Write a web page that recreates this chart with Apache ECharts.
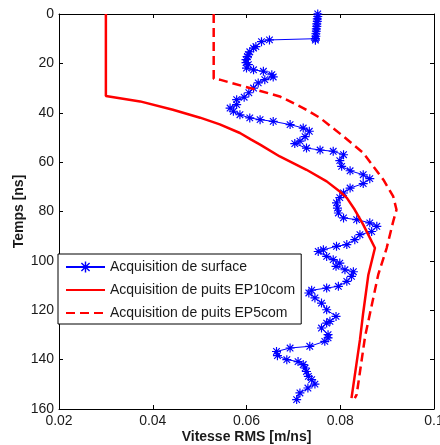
<!DOCTYPE html>
<html>
<head>
<meta charset="utf-8">
<script src="https://cdn.jsdelivr.net/npm/echarts@6/dist/echarts.min.js"></script>
<style>
html,body{margin:0;padding:0;background:#fff;}
#chart{width:440px;height:445px;}
</style>
</head>
<body>
<div id="chart"></div>
<script>
// ---- data ----
var xTicks = [0.02, 0.04, 0.06, 0.08, 0.1];
var yTicks = [0, 20, 40, 60, 80, 100, 120, 140, 160];

var seriesNames = ['Acquisition de surface', 'Acquisition de puits EP10com', 'Acquisition de puits EP5com'];

var surfaceTime = [0,1,2,3,4,5,6,7,8,9,10,10.6,10.5,11.2,13.2,13.8,15.3,16.5,17.2,18.5,19.7,20.5,21.9,22.6,23.2,24.6,25.5,26.6,27.9,30.0,31.9,33.7,34.7,36.7,38.1,39.4,40.8,42.1,42.8,43.5,44.8,46.2,47.5,49.7,51.5,52.5,54.3,55.1,55.6,57.0,59.4,61.7,63.5,65.1,66.7,68.7,70.5,72.5,74.4,76.5,78.6,80.6,82.6,83.3,84.6,86.0,88.1,89.4,91.4,93.4,94.1,95.5,96.2,98.2,99.5,100.9,102.2,103.6,104.4,106.3,108.3,110.3,111.0,111.9,113.0,115.0,117.1,119.8,122.5,124.5,125.2,127.2,129.9,131.2,132.6,134.6,135.3,136.7,138.4,140.0,140.8,142.0,143.4,144.8,146.8,148.1,149.9,151.5,153.5,156.2];
var surfaceVel = [0.0752,0.0752,0.0751,0.0751,0.0750,0.0750,0.0749,0.0749,0.0748,0.0748,0.0747,0.0747,0.0649,0.0632,0.0620,0.0615,0.0607,0.0604,0.0602,0.0599,0.0599,0.0604,0.0600,0.0615,0.0636,0.0654,0.0657,0.0639,0.0625,0.0615,0.0605,0.0595,0.0579,0.0579,0.0565,0.0572,0.0586,0.0607,0.0629,0.0657,0.0693,0.0721,0.0734,0.0725,0.0714,0.0703,0.0728,0.0757,0.0785,0.0807,0.0799,0.0803,0.0821,0.0849,0.0863,0.0849,0.0821,0.0807,0.0799,0.0792,0.0794,0.0796,0.0807,0.0835,0.0863,0.0878,0.0867,0.0842,0.0831,0.0814,0.0792,0.0764,0.0753,0.0771,0.0785,0.0799,0.0791,0.0810,0.0828,0.0824,0.0814,0.0796,0.0771,0.0739,0.0733,0.0746,0.0760,0.0771,0.0791,0.0778,0.0771,0.0760,0.0774,0.0774,0.0767,0.0735,0.0693,0.0664,0.0666,0.0686,0.0710,0.0721,0.0725,0.0728,0.0732,0.0739,0.0746,0.0731,0.0714,0.0707];

var ep10Time = [0, 33.2, 35.4, 38.8, 42.0, 44.7, 48.2, 50.9, 52.9, 57.7, 63.1, 67.8, 71.9, 74.5, 79.3, 85.3, 94.8, 105.6, 121.0, 132.0, 155.6];
var ep10Vel  = [0.0300, 0.0300, 0.0373, 0.0443, 0.0501, 0.0543, 0.0586, 0.0610, 0.0629, 0.0671, 0.0728, 0.0771, 0.0799, 0.0814, 0.0831, 0.0849, 0.0874, 0.0860, 0.0849, 0.0842, 0.0824];

var ep5Time = [0, 26.2, 26.6, 30.4, 33.4, 38.1, 42.1, 49.6, 56.3, 67.1, 73.9, 79.3, 84.0, 94.8, 105.6, 130.6, 154.2, 155.6];
var ep5Vel  = [0.0530, 0.0530, 0.0543, 0.0615, 0.0671, 0.0721, 0.0757, 0.0807, 0.0849, 0.0892, 0.0913, 0.0920, 0.0913, 0.0899, 0.0881, 0.0853, 0.0835, 0.0831];

function pairs(v, t){ return v.map(function(x,i){ return [x, t[i]]; }); }

var FONT = "'Liberation Sans', Arial, Helvetica, sans-serif";
var TXT = '#1a1a1a';
var STAR = 'path://M4.35,0 L5.65,0 L5.65,10 L4.35,10 Z M0,4.35 L10,4.35 L10,5.65 L0,5.65 Z M0.9,1.8 L1.8,0.9 L9.1,8.2 L8.2,9.1 Z M8.2,0.9 L9.1,1.8 L1.8,9.1 L0.9,8.2 Z';

var chart = echarts.init(document.getElementById('chart'), null, {renderer:'canvas'});

function xAx(pos, show){
  return {
    type:'value', position:pos, min:xTicks[0], max:xTicks[xTicks.length-1], interval:0.02,
    axisLine:{show:true, onZero:false, lineStyle:{color:'#000', width:1}},
    axisTick:{show:true, inside:true, length:4, lineStyle:{color:'#000'}},
    splitLine:{show:false},
    axisLabel:{show:show, color:TXT, fontSize:14, fontFamily:FONT, margin:5,
      alignMinLabel:'center', alignMaxLabel:'center', hideOverlap:false,
      formatter:function(v){ return String(Math.round(v*100)/100); }},
    name: show ? 'Vitesse RMS [m/ns]' : '',
    nameLocation:'middle', nameGap:28, nameMoveOverlap:false,
    nameTextStyle:{color:TXT, fontSize:14, fontWeight:'bold', fontFamily:FONT, verticalAlign:'middle'}
  };
}
function yAx(pos, show){
  return {
    type:'value', position:pos, inverse:true, min:yTicks[0], max:yTicks[yTicks.length-1], interval:20,
    axisLine:{show:true, onZero:false, lineStyle:{color:'#000', width:1}},
    axisTick:{show:true, inside:true, length:4, lineStyle:{color:'#000'}},
    splitLine:{show:false},
    axisLabel:{show:show, color:TXT, fontSize:14, fontFamily:FONT, margin:5},
    name: show ? 'Temps [ns]' : '',
    nameLocation:'middle', nameGap:40, nameRotate:90, nameMoveOverlap:false,
    nameTextStyle:{color:TXT, fontSize:14, fontWeight:'bold', fontFamily:FONT, verticalAlign:'middle'}
  };
}

var option = {
  animation:false,
  backgroundColor:'#fff',
  grid:{left:59, right:6, top:14, bottom:36, containLabel:false, outerBoundsMode:'none'},
  xAxis:[xAx('bottom', true), xAx('top', false)],
  yAxis:[yAx('left', true), yAx('right', false)],
  legend:{
    orient:'vertical', left:58, top:254,
    backgroundColor:'#fff', borderColor:'#000', borderWidth:1,
    padding:[6,6,4,7], itemWidth:39, itemHeight:14, itemGap:9,
    textStyle:{color:TXT, fontSize:14, fontFamily:FONT},
    data:[
      {name:seriesNames[0]},
      {name:seriesNames[1], itemStyle:{opacity:0}},
      {name:seriesNames[2], itemStyle:{opacity:0}}
    ]
  },
  series:[
    {
      name:seriesNames[0], type:'line', xAxisIndex:0, yAxisIndex:0,
      data:pairs(surfaceVel, surfaceTime),
      symbol:STAR, symbolSize:9, showAllSymbol:true,
      itemStyle:{color:'#0000ff'},
      lineStyle:{color:'#0000ff', width:1},
      z:2
    },
    {
      name:seriesNames[1], type:'line', xAxisIndex:0, yAxisIndex:0,
      data:pairs(ep10Vel, ep10Time),
      symbol:'none', smooth:false,
      itemStyle:{color:'#ff0000'},
      lineStyle:{color:'#ff0000', width:2.5},
      z:3
    },
    {
      name:seriesNames[2], type:'line', xAxisIndex:0, yAxisIndex:0,
      data:pairs(ep5Vel, ep5Time),
      symbol:'none', smooth:false,
      itemStyle:{color:'#ff0000'},
      lineStyle:{color:'#ff0000', width:2.5, type:[9,5]},
      z:3
    }
  ]
};
chart.setOption(option);
</script>
</body>
</html>
